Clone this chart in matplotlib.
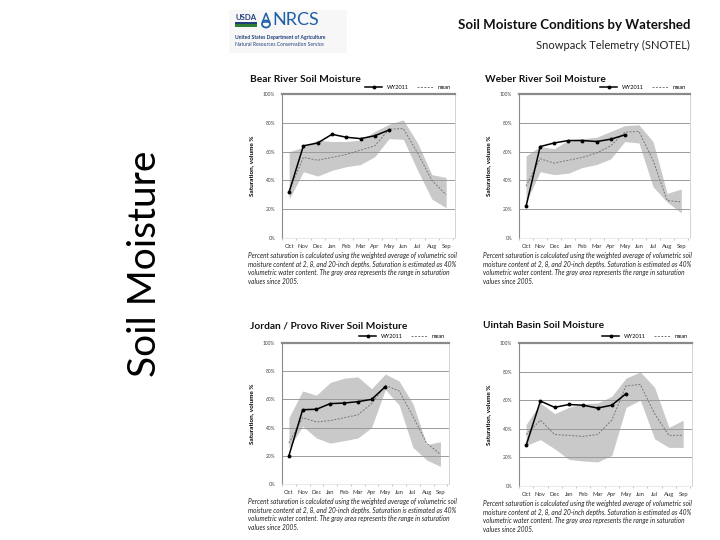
import matplotlib
matplotlib.use("Agg")
import matplotlib.pyplot as plt
from matplotlib.patches import Rectangle, Ellipse, Polygon
import numpy as np

months = ["Oct", "Nov", "Dec", "Jan", "Feb", "Mar", "Apr", "May", "Jun", "Jul", "Aug", "Sep"]
yticks = [0, 20, 40, 60, 80, 100]
ytick_labels = ["0%", "20%", "40%", "60%", "80%", "100%"]

bear_wy = [32, 64, 66, 72, 70, 69, 71, 75]
bear_mean = [33, 56, 54, 56, 58, 61, 64, 75.5, 76, 59, 40, 30]
bear_hi = [60, 63, 68, 67, 67, 68, 74, 79, 82, 66, 44, 42]
bear_lo = [27, 46, 43, 47, 49.5, 51, 56.5, 69, 68.5, 47, 27, 21]

weber_wy = [22, 63.5, 66, 67.7, 67.7, 67, 68.6, 71.6]
weber_mean = [36, 55, 52, 54, 56, 59, 64, 73.5, 74, 54, 26, 25]
weber_hi = [57, 63.5, 62, 68, 69, 70, 74, 78, 78.6, 67, 31, 34]
weber_lo = [25, 46, 44, 45, 49, 51, 55, 67, 66, 35.6, 25, 17.4]

jordan_wy = [20, 52.7, 53, 57, 57.4, 58.4, 60, 69]
jordan_mean = [29, 47, 44, 45, 47, 49, 57, 70, 66, 48, 29, 21]
jordan_hi = [47, 66, 63, 72, 75, 76, 67.6, 78, 73, 57, 28, 30]
jordan_lo = [25.5, 41, 32.6, 29, 30.7, 32.6, 40, 67, 56, 26, 17, 12.5]

uintah_wy = [28.4, 59.4, 55, 57, 56.5, 54.5, 56.5, 64.6]
uintah_mean = [36, 46, 36, 35.4, 34.7, 36, 46, 70, 71, 50.6, 35.4, 35.4]
uintah_hi = [43, 58, 50.6, 55, 57.6, 58, 62.7, 75.5, 79.7, 69, 41, 46]
uintah_lo = [28.4, 32.4, 26, 18.6, 17.5, 16.8, 21.4, 55, 60, 33, 27, 27]

titles = ["Bear River Soil Moisture", "Weber River Soil Moisture",
          "Jordan / Provo River Soil Moisture", "Uintah Basin Soil Moisture"]

caption = ("Percent saturation is calculated using the weighted average of volumetric soil\n"
           "moisture content at 2, 8, and 20-inch depths. Saturation is estimated as 40%\n"
           "volumetric water content. The gray area represents the range in saturation\n"
           "values since 2005.")

W, H = 720, 540
fig = plt.figure(figsize=(7.2, 5.4), dpi=100)
fig.patch.set_facecolor("white")
FONT = "Lato"

def fx(x):
    return x / W

def fy(y):
    return 1 - y / H

# Big vertical label
fig.text(fx(145), fy(264), "Soil Moisture", rotation=90, ha="center", va="center",
         fontsize=28, family=FONT, color="black")

# Logo approximation
fig.patches.append(Rectangle((fx(229), fy(53)), fx(118), 43 / H, transform=fig.transFigure,
                             facecolor="#f7f7f7", edgecolor="none"))
fig.text(fx(235), fy(18), "USDA", fontsize=5.6, fontweight="bold", color="#1f3f7a",
         family=FONT, ha="left", va="center")
fig.patches.append(Rectangle((fx(235), fy(27)), fx(22), 3 / H, transform=fig.transFigure,
                             facecolor="#2e7d32", edgecolor="none"))
fig.patches.append(Rectangle((fx(235), fy(24)), fx(22), 2 / H, transform=fig.transFigure,
                             facecolor="#1f3f7a", edgecolor="none"))
fig.patches.append(Ellipse((fx(266), fy(24)), fx(8), 7 / H, transform=fig.transFigure,
                           facecolor="none", edgecolor="#1f5fa8", linewidth=1.3))
fig.patches.append(Polygon([(fx(262.5), fy(22)), (fx(266), fy(13)), (fx(269.5), fy(22))],
                           closed=True, transform=fig.transFigure,
                           facecolor="none", edgecolor="#1f5fa8", linewidth=1.1))
fig.text(fx(272), fy(20), "NRCS", fontsize=13, color="#1f5fa8", family=FONT,
         ha="left", va="center")
fig.text(fx(235), fy(38), "United States Department of Agriculture", fontsize=3.6,
         fontweight="bold", color="#1f3f7a", family=FONT, ha="left", va="center")
fig.text(fx(235), fy(45), "Natural Resources Conservation Service", fontsize=3.6,
         color="#1f3f7a", family=FONT, ha="left", va="center")

# Header titles
fig.text(fx(690), fy(25), "Soil Moisture Conditions by Watershed", fontsize=9.5,
         fontweight="bold", family=FONT, ha="right", va="center", color="#111111")
fig.text(fx(690), fy(45), "Snowpack Telemetry (SNOTEL)", fontsize=8, family=FONT,
         ha="right", va="center", color="#222222")

panels = [
    dict(pos=(282, 94, 455, 238), wy=bear_wy, mean=bear_mean, hi=bear_hi, lo=bear_lo,
         title=titles[0], tx=250, ty=79, cx=248, cy=252),
    dict(pos=(519, 94, 690, 238), wy=weber_wy, mean=weber_mean, hi=weber_hi, lo=weber_lo,
         title=titles[1], tx=485, ty=80, cx=483, cy=252),
    dict(pos=(282, 343, 449, 484), wy=jordan_wy, mean=jordan_mean, hi=jordan_hi, lo=jordan_lo,
         title=titles[2], tx=250, ty=326, cx=248, cy=498),
    dict(pos=(519, 343, 692, 486), wy=uintah_wy, mean=uintah_mean, hi=uintah_hi, lo=uintah_lo,
         title=titles[3], tx=483, ty=326, cx=483, cy=500),
]

x = np.arange(len(months))
for p in panels:
    l, t, r, b = p["pos"]
    ax = fig.add_axes([fx(l), fy(b), fx(r - l), (b - t) / H])
    ax.fill_between(x, p["lo"], p["hi"], color="#c9c9c9", linewidth=0, zorder=1)
    ax.plot(x, p["mean"], color="#777777", linestyle=(0, (2, 1.5)), linewidth=0.7,
            zorder=3, label="mean")
    ax.plot(x[:len(p["wy"])], p["wy"], color="black", linewidth=1.1, marker="o",
            markersize=1.8, zorder=4, label="WY2011")
    ax.set_xlim(-0.42, 11.62)
    ax.set_ylim(0, 100)
    ax.set_yticks(yticks)
    ax.set_yticklabels(ytick_labels, fontsize=3.5, color="#444444", family=FONT)
    ax.set_xticks(x)
    ax.set_xticklabels(months, fontsize=4.2, color="#333333", family=FONT)
    ax.set_xticks(np.arange(-0.5, 11.6, 1), minor=True)
    ax.tick_params(axis="x", which="major", length=0, pad=4)
    ax.tick_params(axis="x", which="minor", length=1.5, color="#aaaaaa", width=0.5)
    ax.tick_params(axis="y", length=0, pad=5)
    for yv in [20, 40, 60, 80]:
        ax.axhline(yv, color="#9a9a9a", linewidth=0.7, zorder=2)
    ax.spines["top"].set_color("#8a8a8a")
    ax.spines["top"].set_linewidth(1.6)
    ax.spines["left"].set_color("#8a8a8a")
    ax.spines["left"].set_linewidth(0.8)
    ax.spines["right"].set_color("#cccccc")
    ax.spines["right"].set_linewidth(0.6)
    ax.spines["bottom"].set_color("#e0e0e0")
    ax.spines["bottom"].set_linewidth(0.5)
    ax.set_ylabel("Saturation, volume %", fontsize=4.6, fontweight="bold", family=FONT,
                  labelpad=6)
    handles, labels = ax.get_legend_handles_labels()
    ax.legend(handles[::-1], labels[::-1], loc="lower right",
              bbox_to_anchor=(1.0, 1.0), ncol=2, frameon=False,
              handlelength=3, columnspacing=1.5, borderaxespad=0.3,
              prop={"family": FONT, "size": 4})
    fig.text(fx(p["tx"]), fy(p["ty"]), p["title"], fontsize=7.3, fontweight="bold",
             family=FONT, ha="left", va="center", color="#111111")
    fig.text(fx(p["cx"]), fy(p["cy"]), caption, fontsize=4.7, style="italic", family=FONT,
             ha="left", va="top", color="#222222", linespacing=1.25)

fig.savefig("out.png", dpi=100, facecolor="white")
